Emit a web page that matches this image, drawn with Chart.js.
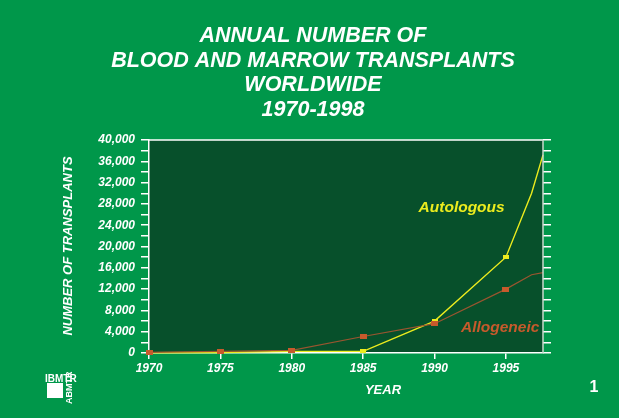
<!DOCTYPE html>
<html>
<head>
<meta charset="utf-8">
<script src="https://cdn.jsdelivr.net/npm/chart.js@4.4.1/dist/chart.umd.min.js"></script>
<style>
  html, body { margin: 0; padding: 0; background: #00974a; }
  canvas { display: block; }
</style>
</head>
<body>
<canvas id="myChart" width="619" height="418"></canvas>
<script>
// chart data
const years = [1970, 1975, 1980, 1985, 1990, 1995, 1996.8, 1997.6];
const autologous = [50, 100, 300, 300, 6000, 18000, 30000, 37200];
const allogeneic = [100, 300, 500, 3100, 5500, 12000, 14700, 15100];
const markerShown = [1, 1, 1, 1, 1, 1, 0, 0];
const xTicks = [1970, 1975, 1980, 1985, 1990, 1995];
const yTicks = [0, 2000, 4000, 6000, 8000, 10000, 12000, 14000, 16000, 18000, 20000,
  22000, 24000, 26000, 28000, 30000, 32000, 34000, 36000, 38000, 40000];
const titleLines = ['ANNUAL NUMBER OF', 'BLOOD AND MARROW TRANSPLANTS', 'WORLDWIDE', '1970-1998'];

const FONT = "'Liberation Sans', Arial, sans-serif";
const bgGreen = '#00974a';
const plotGreen = '#07502b';
const yellow = '#ecec1e';
const orange = '#c75a2c';

// small rectangle markers
function makeMarker(w, h, color) {
  let c = document.createElement('canvas');
  c.width = w;
  c.height = h;
  let g = c.getContext('2d');
  g.fillStyle = color;
  g.fillRect(0, 0, w, h);
  return c;
}
const orangeMark = makeMarker(7, 5, orange);
const yellowMark = makeMarker(6, 4, yellow);

const slidePlugin = {
  id: 'slide',
  beforeDraw(chart) {
    let ctx = chart.ctx;
    let a = chart.chartArea;
    ctx.save();
    ctx.fillStyle = bgGreen;
    ctx.fillRect(0, 0, chart.width, chart.height);
    ctx.fillStyle = plotGreen;
    ctx.fillRect(a.left, a.top, a.right - a.left, a.bottom - a.top);
    ctx.restore();
  },
  afterDraw(chart) {
    let ctx = chart.ctx;
    let a = chart.chartArea;
    let xs = chart.scales.x;
    let ys = chart.scales.y;
    ctx.save();

    // frame top + right
    ctx.strokeStyle = '#ffffff';
    ctx.lineWidth = 1.5;
    ctx.beginPath();
    ctx.moveTo(a.left, a.top);
    ctx.lineTo(a.right, a.top);
    ctx.stroke();
    ctx.strokeStyle = '#c8d8cc';
    ctx.beginPath();
    ctx.moveTo(a.right, a.top);
    ctx.lineTo(a.right, a.bottom);
    ctx.stroke();

    // title
    ctx.fillStyle = '#ffffff';
    ctx.textAlign = 'center';
    ctx.textBaseline = 'middle';
    ctx.font = 'italic bold 21.5px ' + FONT;
    titleLines.forEach(function(t, i) {
      ctx.fillText(t, 313, 36.5 + i * 24.4);
    });

    // axis titles
    ctx.font = 'italic bold 13px ' + FONT;
    ctx.fillText('YEAR', 383, 390);
    ctx.save();
    ctx.translate(68, 246);
    ctx.rotate(-Math.PI / 2);
    ctx.fillText('NUMBER OF TRANSPLANTS', 0, 0);
    ctx.restore();

    // series labels
    ctx.font = 'italic bold 15.5px ' + FONT;
    ctx.fillStyle = yellow;
    ctx.fillText('Autologous', xs.getPixelForValue(1991.9), ys.getPixelForValue(27300));
    ctx.fillStyle = orange;
    ctx.fillText('Allogeneic', xs.getPixelForValue(1994.6), ys.getPixelForValue(4700));

    // slide number
    ctx.fillStyle = '#ffffff';
    ctx.font = 'bold 16px ' + FONT;
    ctx.fillText('1', 594, 388);

    // logo
    ctx.fillRect(47, 383, 16, 15);
    ctx.font = 'bold 10px ' + FONT;
    ctx.textAlign = 'left';
    ctx.textBaseline = 'alphabetic';
    ctx.fillText('IBMTR', 45, 382);
    ctx.save();
    ctx.translate(72, 404);
    ctx.rotate(-Math.PI / 2);
    ctx.font = 'bold 9px ' + FONT;
    ctx.fillText('ABMTR', 0, 0);
    ctx.restore();

    ctx.restore();
  }
};

const ctx = document.getElementById('myChart').getContext('2d');
const myChart = new Chart(ctx, {
  type: 'line',
  data: {
    datasets: [
      {
        label: 'Allogeneic',
        data: years.map((y, i) => ({ x: y, y: allogeneic[i] })),
        borderColor: '#9a5530',
        borderWidth: 1.2,
        pointStyle: orangeMark,
        pointRadius: markerShown.map(m => m ? 3 : 0),
        tension: 0,
        clip: false
      },
      {
        label: 'Autologous',
        data: years.map((y, i) => ({ x: y, y: autologous[i] })),
        borderColor: yellow,
        borderWidth: 1.4,
        pointStyle: yellowMark,
        pointRadius: markerShown.map(m => m ? 3 : 0),
        tension: 0,
        clip: false
      }
    ]
  },
  options: {
    responsive: false,
    animation: false,
    devicePixelRatio: 1,
    layout: { padding: { top: 140, left: 0, right: 0, bottom: 0 } },
    plugins: {
      legend: { display: false },
      title: { display: false },
      tooltip: { enabled: false }
    },
    scales: {
      x: {
        type: 'linear',
        min: 1970,
        max: 1997.6,
        afterBuildTicks: function(scale) {
          scale.ticks = xTicks.map(v => ({ value: v }));
        },
        afterFit: function(scale) { scale.height = 65; },
        ticks: {
          color: '#ffffff',
          padding: 2,
          maxRotation: 0,
          autoSkip: false,
          font: { family: FONT, size: 12, style: 'italic', weight: 'bold' },
          callback: v => String(v)
        },
        grid: { drawOnChartArea: false, color: '#ffffff', tickLength: 6, lineWidth: 1.5 },
        border: { display: true, color: '#ffffff', width: 1.5 }
      },
      y: {
        type: 'linear',
        position: 'left',
        min: 0,
        max: 40000,
        afterBuildTicks: function(scale) {
          scale.ticks = yTicks.map(v => ({ value: v }));
        },
        afterFit: function(scale) { scale.width = 149; },
        ticks: {
          color: '#ffffff',
          padding: 6,
          autoSkip: false,
          font: { family: FONT, size: 12, style: 'italic', weight: 'bold' },
          callback: v => (v % 4000 === 0 ? v.toLocaleString('en-US') : '')
        },
        grid: { drawOnChartArea: false, color: '#ffffff', tickLength: 8, lineWidth: 1.5 },
        border: { display: true, color: '#ffffff', width: 1.5 }
      },
      y2: {
        type: 'linear',
        position: 'right',
        min: 0,
        max: 40000,
        afterBuildTicks: function(scale) {
          scale.ticks = yTicks.map(v => ({ value: v }));
        },
        afterFit: function(scale) { scale.width = 76; },
        ticks: { display: false },
        grid: { drawOnChartArea: false, color: '#ffffff', tickLength: 8, lineWidth: 1.5 },
        border: { display: false }
      }
    }
  },
  plugins: [slidePlugin]
});
</script>
</body>
</html>
